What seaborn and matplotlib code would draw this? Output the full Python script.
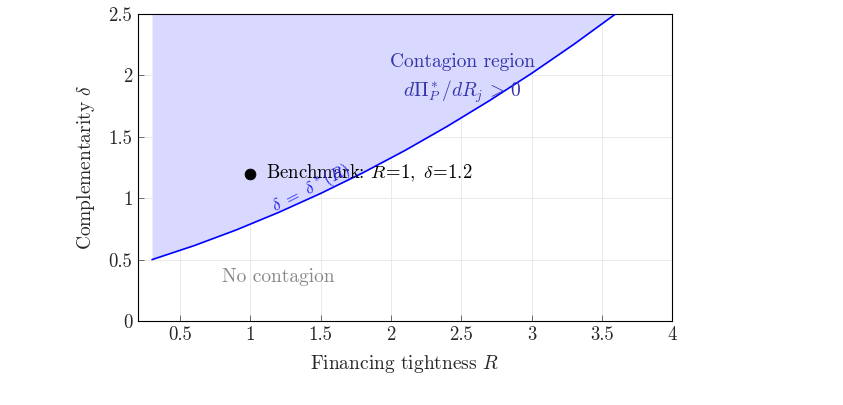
import numpy as np
import pandas as pd
import matplotlib
matplotlib.use("Agg")
import matplotlib.pyplot as plt
import seaborn as sns

# --- data ---
R_VALUES = [0.3, 0.6, 0.9, 1.2, 1.5, 1.8, 2.1, 2.4, 2.7, 3.0, 3.3, 3.6]
DELTA_STAR = [0.50, 0.614, 0.742, 0.884, 1.039, 1.207, 1.389, 1.585, 1.794, 2.016, 2.252, 2.502]
BENCH_R = [1.0]
BENCH_DELTA = [1.2]
X_TICKS = [0.5, 1, 1.5, 2, 2.5, 3, 3.5, 4]
X_TICK_LABELS = ["0.5", "1", "1.5", "2", "2.5", "3", "3.5", "4"]
Y_TICKS = [0, 0.5, 1, 1.5, 2, 2.5]
Y_TICK_LABELS = ["0", "0.5", "1", "1.5", "2", "2.5"]

sns.set_theme(style="whitegrid")
plt.rcParams['font.family'] = ['cmr10', 'DejaVu Serif']
plt.rcParams['mathtext.fontset'] = 'cm'
plt.rcParams['axes.unicode_minus'] = False

df = pd.DataFrame({"R": R_VALUES, "delta": DELTA_STAR})
bench = pd.DataFrame({"R": BENCH_R, "delta": BENCH_DELTA})

fig = plt.figure(figsize=(8.43, 4.05), dpi=100)
ax = fig.add_axes([0.1637, 0.2074, 0.6335, 0.758])

# contagion region above the threshold curve
ax.fill_between(df["R"], df["delta"], 2.5, color="#d9d9ff", linewidth=0, zorder=1)
sns.lineplot(data=df, x="R", y="delta", ax=ax, color="#0000ff", linewidth=1.2, zorder=3)
sns.scatterplot(data=bench, x="R", y="delta", ax=ax, color="black", s=60, edgecolor="black", zorder=4)

ax.text(1.11, 1.2, r"Benchmark: $R\!=\!1,\ \delta\!=\!1.2$", fontsize=13.5,
        ha="left", va="center", color="black", zorder=5)
ax.text(2.51, 2.11, "Contagion region", fontsize=14, ha="center", va="center",
        color="#3333aa", zorder=5)
ax.text(2.51, 1.865, r"$d\Pi_P^*/dR_j\,>\,0$", fontsize=14, ha="center", va="center",
        color="#3333aa", zorder=5)
ax.text(1.43, 1.08, r"$\delta\ =\ \delta^*(R)$", fontsize=12.5, ha="center", va="center",
        color="#2222ee", rotation=27, zorder=5)
ax.text(1.2, 0.36, "No contagion", fontsize=14, ha="center", va="center",
        color="#888888", zorder=5)

ax.set_xlim(0.2, 4)
ax.set_ylim(0, 2.5)
ax.set_xticks(X_TICKS)
ax.set_xticklabels(X_TICK_LABELS)
ax.set_yticks(Y_TICKS)
ax.set_yticklabels(Y_TICK_LABELS)
ax.set_xlabel(r"Financing tightness $R$", fontsize=14, labelpad=6)
ax.set_ylabel(r"Complementarity $\delta$", fontsize=14, labelpad=8)

ax.grid(True, color="#e6e6e6", linewidth=0.6)
ax.set_axisbelow(True)
ax.tick_params(direction="in", length=4, width=0.6, color="#555555",
               labelsize=13.5, pad=4, left=True, bottom=True)
for s in ax.spines.values():
    s.set_color("black")
    s.set_linewidth(0.8)
    s.set_visible(True)

fig.savefig("out.png", dpi=100)
